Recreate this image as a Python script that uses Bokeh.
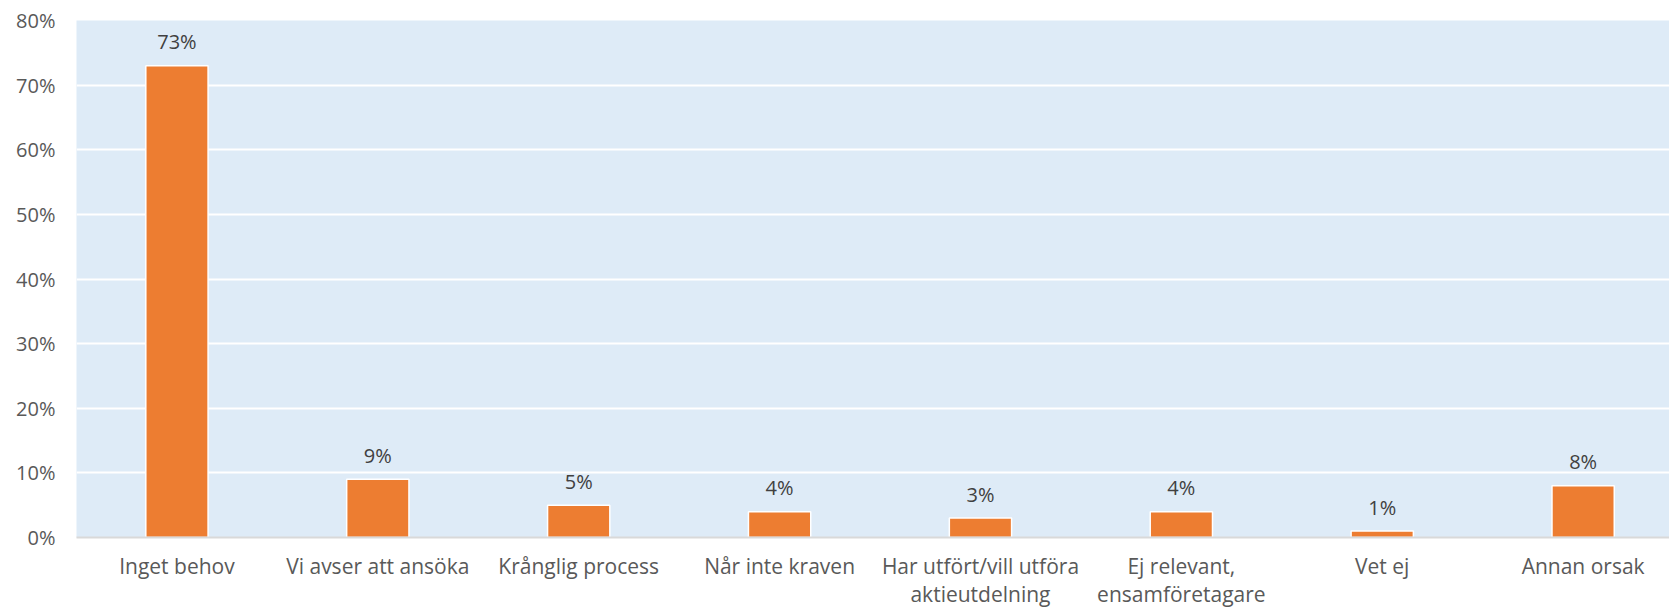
from bokeh.plotting import figure
from bokeh.models import ColumnDataSource, Range1d, FixedTicker, PrintfTickFormatter
from bokeh.core.properties import value
from bokeh.embed import file_html
from bokeh.resources import INLINE

categories = ["Inget behov", "Vi avser att ansöka", "Krånglig process", "Når inte kraven",
              "Har utfört/vill utföra\naktieutdelning", "Ej relevant,\nensamföretagare",
              "Vet ej", "Annan orsak"]
values = [73, 9, 5, 4, 3, 4, 1, 8]
labels = ["73%", "9%", "5%", "4%", "3%", "4%", "1%", "8%"]
y_ticks = [0, 10, 20, 30, 40, 50, 60, 70, 80]

xs = [i + 1 for i in range(len(categories))]
src = ColumnDataSource(dict(x=xs, top=values, label=labels))

FONT = "Open Sans"

p = figure(width=1669, height=610, output_backend="svg", toolbar_location=None,
           x_range=Range1d(0.5, 8.43), y_range=Range1d(0, 80),
           min_border_left=76, min_border_right=0, min_border_top=20, min_border_bottom=72)
p.background_fill_color = "#DEEBF7"
p.border_fill_color = "white"
p.outline_line_color = None

p.vbar(x="x", top="top", width=0.31, bottom=0, source=src,
       fill_color="#ED7D31", line_color="white", line_width=1.5)

p.text(x="x", y="top", text="label", source=src, text_align="center",
       text_baseline="alphabetic", y_offset=-24, text_font=value(FONT),
       text_font_size="20px", text_color="#404040")

p.xgrid.visible = False
p.ygrid.grid_line_color = "white"
p.ygrid.grid_line_width = 2
p.ygrid.ticker = FixedTicker(ticks=y_ticks)

ya = p.yaxis[0]
ya.ticker = FixedTicker(ticks=y_ticks)
ya.formatter = PrintfTickFormatter(format="%d%%")
ya.axis_line_color = None
ya.major_tick_line_color = None
ya.minor_tick_line_color = None
ya.major_label_standoff = 15
ya.major_label_text_font = FONT
ya.major_label_text_font_size = "20px"
ya.major_label_text_color = "#595959"

xa = p.xaxis[0]
xa.ticker = FixedTicker(ticks=xs)
xa.major_label_overrides = {x: c for x, c in zip(xs, categories)}
xa.axis_line_color = "#D9D9D9"
xa.axis_line_width = 2
xa.major_tick_line_color = None
xa.minor_tick_line_color = None
xa.major_label_standoff = 8
xa.major_label_text_font = FONT
xa.major_label_text_font_size = "21px"
xa.major_label_text_color = "#595959"
xa.major_label_text_line_height = 1.0

open("out.html", "w").write(file_html(p, INLINE))
